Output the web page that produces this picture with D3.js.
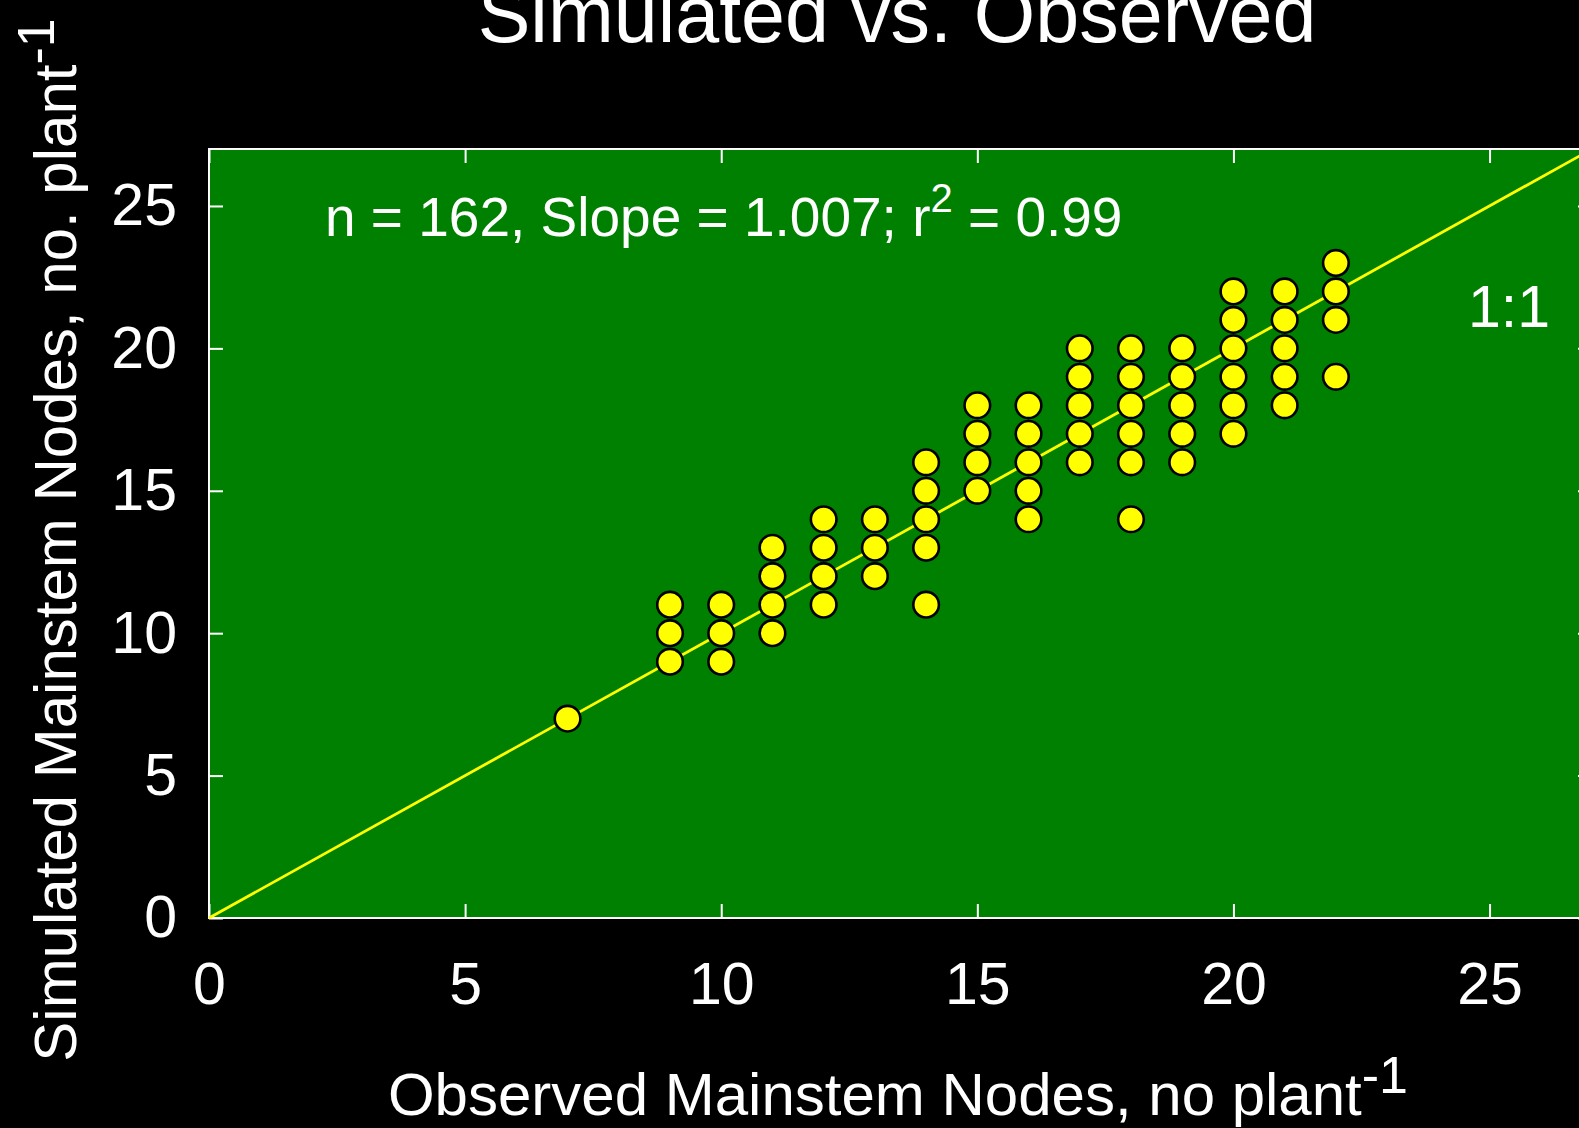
<!DOCTYPE html>
<html>
<head>
<meta charset="utf-8">
<script src="https://cdn.jsdelivr.net/npm/d3@7"></script>
<style>
  html, body { margin: 0; padding: 0; background: #000; overflow: hidden; }
  svg { display: block; }
  text { font-family: 'Liberation Sans', Arial, Helvetica, sans-serif; fill: #fff; }
</style>
</head>
<body>
<div id="chart"></div>
<script>
// Observed (x) vs simulated (y) mainstem node counts, one entry per visible point
var observed = [7,
  9, 9, 9,
  10, 10, 10,
  11, 11, 11, 11,
  12, 12, 12, 12,
  13, 13, 13,
  14, 14, 14, 14, 14,
  15, 15, 15, 15,
  16, 16, 16, 16, 16,
  17, 17, 17, 17, 17,
  18, 18, 18, 18, 18, 18,
  19, 19, 19, 19, 19,
  20, 20, 20, 20, 20, 20,
  21, 21, 21, 21, 21,
  22, 22, 22, 22]
var simulated = [7,
  9, 10, 11,
  9, 10, 11,
  10, 11, 12, 13,
  11, 12, 13, 14,
  12, 13, 14,
  11, 13, 14, 15, 16,
  15, 16, 17, 18,
  14, 15, 16, 17, 18,
  16, 17, 18, 19, 20,
  14, 16, 17, 18, 19, 20,
  16, 17, 18, 19, 20,
  17, 18, 19, 20, 21, 22,
  18, 19, 20, 21, 22,
  19, 21, 22, 23]

var axisMax = 27
var tickValues = [0, 5, 10, 15, 20, 25]
var oneToOne = [0, axisMax]

// Window size + plot box (note: "top" is taken by window.top)
var width = 1579
var height = 1128
var plotLeft = 209
var plotTop = 149
var plotRight = 1592
var plotBottom = 918

var svg = d3.select('#chart')
  .append('svg')
  .attr('width', width)
  .attr('height', height)

svg.append('rect')
  .attr('width', width)
  .attr('height', height)
  .attr('fill', '#000')

var x = d3.scaleLinear()
  .domain([0, axisMax])
  .range([plotLeft, plotRight])

var y = d3.scaleLinear()
  .domain([0, axisMax])
  .range([plotBottom, plotTop])

// Plot background
svg.append('rect')
  .attr('x', plotLeft)
  .attr('y', plotTop)
  .attr('width', plotRight - plotLeft)
  .attr('height', plotBottom - plotTop)
  .attr('fill', '#008000')

// Axes: inward ticks on all four sides, labels on bottom + left only
var tickLen = 14

var xAxis = svg.append('g')
  .attr('transform', 'translate(0,' + plotBottom + ')')
  .call(d3.axisBottom(x).tickValues(tickValues).tickSizeInner(-tickLen).tickSizeOuter(0).tickPadding(44))

var yAxis = svg.append('g')
  .attr('transform', 'translate(' + plotLeft + ',0)')
  .call(d3.axisLeft(y).tickValues(tickValues).tickSizeInner(-tickLen).tickSizeOuter(0).tickPadding(32))

svg.append('g')
  .attr('transform', 'translate(0,' + plotTop + ')')
  .call(d3.axisTop(x).tickValues(tickValues).tickSizeInner(-tickLen).tickSizeOuter(0).tickFormat(''))

svg.append('g')
  .attr('transform', 'translate(' + plotRight + ',0)')
  .call(d3.axisRight(y).tickValues(tickValues).tickSizeInner(-tickLen).tickSizeOuter(0).tickFormat(''))

svg.selectAll('.domain').remove()
svg.selectAll('.tick line')
  .attr('stroke', '#fff')
  .attr('stroke-width', 2)

xAxis.selectAll('text')
  .attr('font-size', '59px')
  .attr('fill', '#fff')
  .attr('font-family', null)

yAxis.selectAll('text')
  .attr('font-size', '59px')
  .attr('fill', '#fff')
  .attr('font-family', null)

// Frame
svg.append('rect')
  .attr('x', plotLeft)
  .attr('y', plotTop)
  .attr('width', plotRight - plotLeft)
  .attr('height', plotBottom - plotTop)
  .attr('fill', 'none')
  .attr('stroke', '#fff')
  .attr('stroke-width', 2)

// 1:1 line
svg.append('line')
  .attr('x1', x(oneToOne[0]))
  .attr('y1', y(oneToOne[0]))
  .attr('x2', x(oneToOne[1]))
  .attr('y2', y(oneToOne[1]))
  .attr('stroke', '#ffff00')
  .attr('stroke-width', 2.8)

// Points
svg.selectAll('.pt')
  .data(observed)
  .enter()
  .append('circle')
  .attr('class', 'pt')
  .attr('cx', function (d) { return x(d) })
  .attr('cy', function (d, i) { return y(simulated[i]) })
  .attr('r', 12.8)
  .attr('fill', '#ffff00')
  .attr('stroke', '#000')
  .attr('stroke-width', 2.6)

// Title
svg.append('text')
  .attr('x', 897)
  .attr('y', 42)
  .attr('text-anchor', 'middle')
  .attr('font-size', '79px')
  .text('Simulated vs. Observed')

// Stats label
var stats = svg.append('text')
  .attr('x', 325)
  .attr('y', 236)
  .attr('font-size', '55px')
stats.append('tspan').text('n = 162, Slope = 1.007; r')
stats.append('tspan').attr('font-size', '40px').attr('dy', -24).text('2')
stats.append('tspan').attr('dy', 24).text(' = 0.99')

// 1:1 label
svg.append('text')
  .attr('x', 1468)
  .attr('y', 327)
  .attr('font-size', '59px')
  .text('1:1')

// X axis title
var xt = svg.append('text')
  .attr('x', 898)
  .attr('y', 1115)
  .attr('text-anchor', 'middle')
  .attr('font-size', '60px')
xt.append('tspan').text('Observed Mainstem Nodes, no plant')
xt.append('tspan').attr('font-size', '52px').attr('dy', -22).text('-1')

// Y axis title
var yt = svg.append('text')
  .attr('transform', 'translate(76,540) rotate(-90)')
  .attr('text-anchor', 'middle')
  .attr('font-size', '60px')
yt.append('tspan').text('Simulated Mainstem Nodes, no. plant')
yt.append('tspan').attr('font-size', '52px').attr('dy', -22).text('-1')
</script>
</body>
</html>
